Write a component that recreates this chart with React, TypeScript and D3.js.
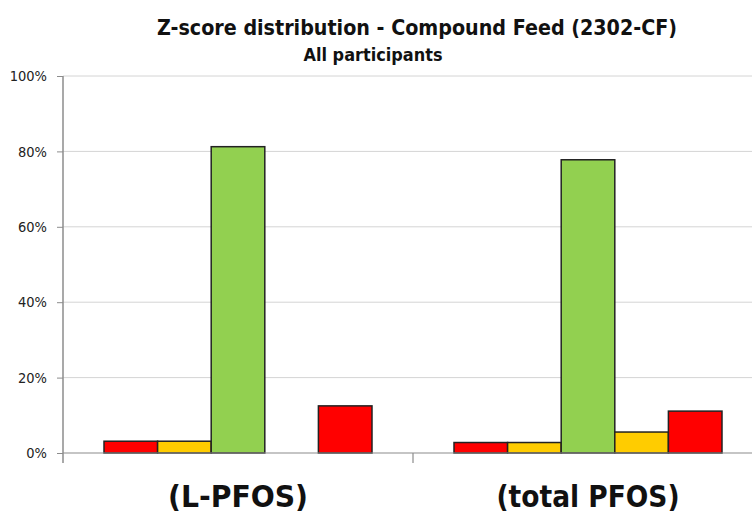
import React, { useEffect, useRef } from 'react'
import * as d3 from 'd3'

const categories = ['(L-PFOS)', '(total PFOS)']
const series = ['z ≤ -3', '-3 < z ≤ -2', '|z| < 2', '2 ≤ z < 3', 'z ≥ 3']
const seriesColors = ['#ff0000', '#ffcc00', '#92d050', '#ffcc00', '#ff0000']
// share of participants per z-score class, one array per category
const lpfos = [0.03125, 0.03125, 0.8125, 0, 0.125]
const totalPfos = [0.0278, 0.0278, 0.7778, 0.0556, 0.1111]
const yTicks = [0, 0.2, 0.4, 0.6, 0.8, 1.0]

const title = 'Z-score distribution  - Compound Feed (2302-CF)'
const subtitle = 'All participants'

export default function App() {
  const ref = useRef<SVGSVGElement>(null)

  useEffect(() => {
    const width = 752
    const height = 514
    const svg = d3.select(ref.current)
    svg.selectAll('*').remove()
    svg.attr('width', width).attr('height', height)

    const font = "'DejaVu Sans Condensed', 'DejaVu Sans', sans-serif"
    const left = 63
    const catW = 350
    const values = [lpfos, totalPfos]
    const catLabelW = [140, 183]

    const x0 = d3.scaleBand().domain(categories).range([left, left + catW * categories.length])
    const x1 = d3.scaleBand().domain(series).range([41, catW - 41])
    const y = d3.scaleLinear().domain([0, 1]).range([453, 76])

    // gridlines
    svg.append('g')
      .selectAll('line')
      .data(yTicks.slice(1))
      .join('line')
      .attr('x1', left)
      .attr('x2', width)
      .attr('y1', d => y(d))
      .attr('y2', d => y(d))
      .attr('stroke', '#d4d4d4')
      .attr('stroke-width', 1)

    // bars
    categories.forEach((c, ci) => {
      const g = svg.append('g').attr('transform', 'translate(' + x0(c) + ',0)')
      g.selectAll('rect')
        .data(values[ci].map((v, i) => ({ v, i })).filter(d => d.v > 0))
        .join('rect')
        .attr('x', d => x1(series[d.i])!)
        .attr('width', x1.bandwidth())
        .attr('y', d => y(d.v))
        .attr('height', d => y(0) - y(d.v))
        .attr('fill', d => seriesColors[d.i])
        .attr('stroke', '#222')
        .attr('stroke-width', 1.5)
    })

    // baseline
    svg.append('line')
      .attr('x1', left).attr('x2', width)
      .attr('y1', y(0)).attr('y2', y(0))
      .attr('stroke', '#8c8c8c').attr('stroke-width', 1.2)

    // y axis
    const yAxis = svg.append('g').attr('transform', 'translate(' + left + ',0)')
      .call(d3.axisLeft(y).tickValues(yTicks).tickFormat(d3.format('.0%')).tickSize(6).tickPadding(10))
    yAxis.select('.domain').remove()
    yAxis.selectAll('line').attr('stroke', '#8c8c8c')
    yAxis.selectAll('text')
      .attr('font-family', font)
      .attr('font-size', 14.5)
      .attr('fill', '#222')
    svg.append('line')
      .attr('x1', left).attr('x2', left)
      .attr('y1', y(1)).attr('y2', y(0) + 10)
      .attr('stroke', '#8c8c8c').attr('stroke-width', 1.5)

    // category separator ticks
    svg.selectAll('line.sep')
      .data(categories.slice(1))
      .join('line')
      .attr('class', 'sep')
      .attr('x1', d => x0(d)!).attr('x2', d => x0(d)!)
      .attr('y1', y(0)).attr('y2', y(0) + 10)
      .attr('stroke', '#8c8c8c').attr('stroke-width', 1.2)

    // category labels
    svg.selectAll('text.cat')
      .data(categories)
      .join('text')
      .attr('class', 'cat')
      .attr('x', d => x0(d)! + catW / 2)
      .attr('y', 507)
      .attr('text-anchor', 'middle')
      .attr('font-family', font)
      .attr('font-weight', 'bold')
      .attr('font-size', 31)
      .attr('fill', '#111')
      .attr('textLength', (d, i) => catLabelW[i])
      .attr('lengthAdjust', 'spacingAndGlyphs')
      .text(d => d)

    svg.append('text')
      .attr('x', 417).attr('y', 35)
      .attr('text-anchor', 'middle')
      .attr('font-family', font)
      .attr('font-weight', 'bold')
      .attr('font-size', 22)
      .attr('fill', '#111')
      .attr('textLength', 520)
      .attr('lengthAdjust', 'spacingAndGlyphs')
      .text(title)

    svg.append('text')
      .attr('x', 373).attr('y', 61)
      .attr('text-anchor', 'middle')
      .attr('font-family', font)
      .attr('font-weight', 'bold')
      .attr('font-size', 17.5)
      .attr('fill', '#111')
      .attr('textLength', 139)
      .attr('lengthAdjust', 'spacingAndGlyphs')
      .text(subtitle)
  }, [])

  return <svg ref={ref} style={{ position: 'absolute', left: 0, top: 0, background: '#fff' }} />
}
